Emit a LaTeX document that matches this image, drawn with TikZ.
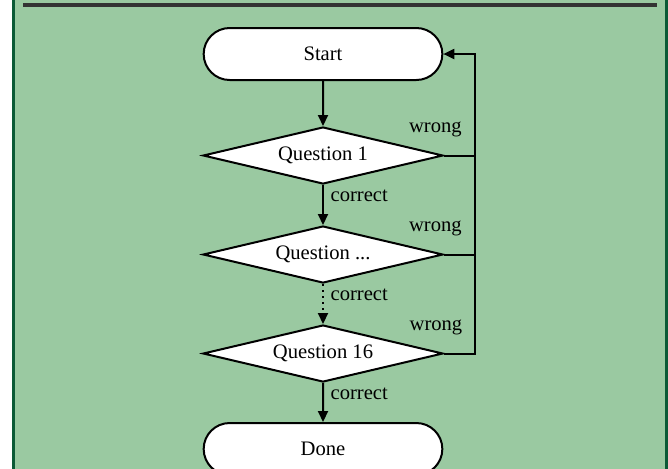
\documentclass[tikz,border=0pt]{standalone}
\usepackage{fontspec}
\setmainfont{Liberation Serif}
\usetikzlibrary{
  arrows.meta,
  positioning,
  shapes.geometric,
  shapes.misc,
  calc
}
\definecolor{panelgreen}{HTML}{9AC9A1}
\definecolor{panelborder}{HTML}{0B5A36}
\definecolor{rulegray}{HTML}{333333}

\begin{document}
\begin{tikzpicture}[
  x=0.5pt, y=-0.5pt,
  node distance=20pt,
  font=\fontsize{10.3}{12}\selectfont,
  terminal/.style={draw, line width=1pt, fill=white, rounded rectangle,
    minimum width=126pt, minimum height=26pt},
  decision/.style={draw, line width=1pt, fill=white, diamond, aspect=4,
    inner sep=0pt, minimum width=120pt, minimum height=28.5pt},
  arrow/.style={-{Triangle[length=5.5pt, width=5pt]}, line width=1pt},
  link/.style={line width=1pt},
  oklabel/.style={right, pos=0.27},
  wronglabel/.style={anchor=east, xshift=-3pt, yshift=13pt}
]
  \useasboundingbox (0,0) rectangle (668,468);

  % panel behind the chart
  \draw[panelborder, fill=panelgreen, line width=1.5pt] (13.5,-20) rectangle (666.5,490);
  \draw[rulegray, line width=1.6pt] (23,5) -- (657,5);

  \node[terminal] (start) at (323,54) {Start};
  \node[decision, below=22.5pt of start] (q1) {Question 1};
  \node[decision, below=of q1] (q2) {Question ...};
  \node[decision, below=of q2] (q16) {Question 16};
  \node[terminal, below=19.5pt of q16] (done) {Done};

  \coordinate[right=16pt of start.east] (back);

  \draw[arrow] (start) -- (q1);
  \draw[arrow] (q1) -- node[oklabel] (c1) {correct} (q2);
  \draw[arrow, dotted] (q2) -- node[oklabel] (c2) {correct} (q16);
  \draw[arrow] (q16) -- node[oklabel] (c3) {correct} (done);

  % wrong answers go back to the start
  \draw[link] (q1.east) -- (q1.east -| back) node[wronglabel] (w1) {wrong};
  \draw[link] (q2.east) -- (q2.east -| back) node[wronglabel] (w2) {wrong};
  \draw[arrow] (q16.east) -| (back) -- (start.east);
  \node[wronglabel] (w3) at (q16.east -| back) {wrong};

\end{tikzpicture}
\end{document}
